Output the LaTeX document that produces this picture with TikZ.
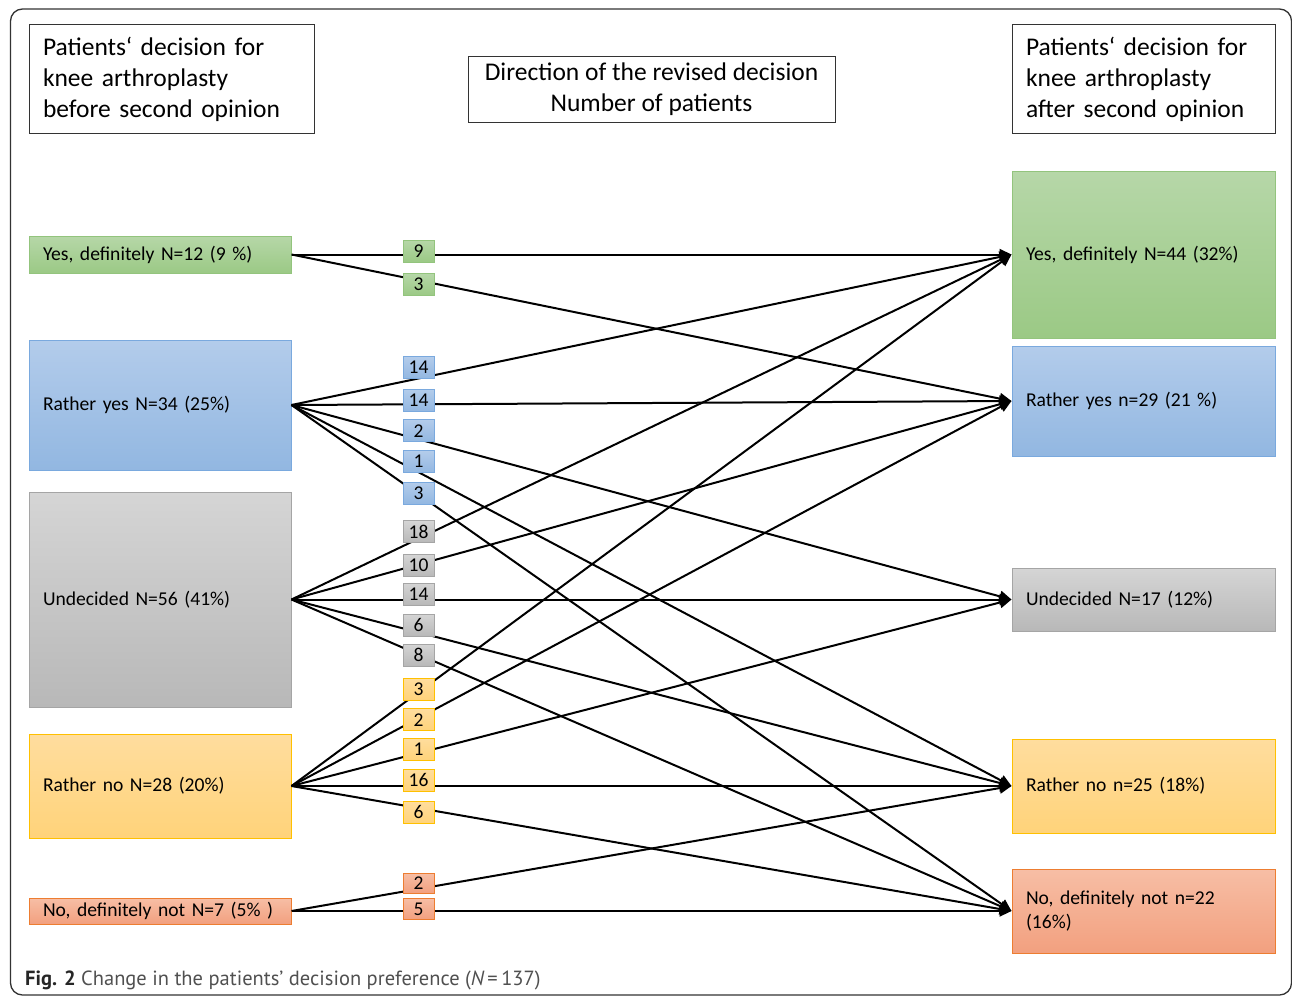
\documentclass[tikz,border=0pt]{standalone}
\usepackage{fontspec}
\setmainfont{Carlito}
\newfontfamily\capfont{PT Sans}
\usetikzlibrary{arrows.meta}
\definecolor{gT}{HTML}{B6D7A8}\definecolor{gB}{HTML}{9BC985}\definecolor{gD}{HTML}{93C47D}
\definecolor{bT}{HTML}{B3CCEB}\definecolor{bB}{HTML}{92B7E1}\definecolor{bD}{HTML}{7AA9DE}
\definecolor{yT}{HTML}{D5D5D5}\definecolor{yB}{HTML}{B8B8B8}\definecolor{yD}{HTML}{A5A5A5}
\definecolor{oT}{HTML}{FFDD9E}\definecolor{oB}{HTML}{FFD37A}\definecolor{oD}{HTML}{FFC000}
\definecolor{rT}{HTML}{F7BEA5}\definecolor{rB}{HTML}{F2A07F}\definecolor{rD}{HTML}{ED7D31}
\definecolor{capgray}{HTML}{505050}
\tikzset{
  gfill/.style={top color=gT, bottom color=gB, draw=gD},
  bfill/.style={top color=bT, bottom color=bB, draw=bD},
  yfill/.style={top color=yT, bottom color=yB, draw=yD},
  ofill/.style={top color=oT, bottom color=oB, draw=oD},
  rfill/.style={top color=rT, bottom color=rB, draw=rD},
  catbox/.style={rectangle, line width=1pt, inner xsep=14pt, inner ysep=0pt, align=left,
    font=\fontsize{19.6}{24}\selectfont},
  leftbox/.style={catbox, text width=234pt},
  rightbox/.style={catbox, text width=235pt},
  headbox/.style={rectangle, draw=black!80, line width=1pt, inner xsep=14pt, inner ysep=0pt,
    font=\fontsize{25.5}{31}\selectfont},
  numbox/.style={rectangle, line width=1pt, minimum width=31pt, minimum height=22pt, inner sep=0pt,
    font=\fontsize{19.5}{20}\selectfont},
  flow/.style={line width=2pt, draw=black},
  arr/.style={flow, -{Triangle[length=12pt,width=11pt]}},
}
\begin{document}
\begin{tikzpicture}[x=1pt,y=-1pt]
\useasboundingbox (0,0) rectangle (1292,998);
\draw[draw=black!80, line width=1.3pt, rounded corners=12pt] (10.5,9) rectangle (1291.5,995);

% headers
\node[headbox, text width=257pt, minimum height=108pt, align=left] (H1) at (171.5,79)
  {Patients‘ decision for\\knee arthroplasty\\before second opinion};
\node[headbox, minimum width=367pt, minimum height=65pt, align=center] (H2) at (651.5,89.5)
  {Direction of the revised decision\\Number of patients};
\node[headbox, text width=235pt, minimum height=108pt, align=left] (H3) at (1143.5,79)
  {Patients‘ decision for\\knee arthroplasty\\after second opinion};

% left categories
\node[leftbox, gfill, minimum height=37pt] (L1) at (160,254.5) {Yes, definitely N=12 (9 \%)};
\node[leftbox, bfill, minimum height=130pt] (L2) at (160,405) {Rather yes N=34 (25\%)};
\node[leftbox, yfill, minimum height=215pt] (L3) at (160,599.5) {Undecided N=56 (41\%)};
\node[leftbox, ofill, minimum height=104pt] (L4) at (160,786) {Rather no N=28 (20\%)};
\node[leftbox, rfill, minimum height=26pt] (L5) at (160,911) {\mbox{No, definitely not N=7 (5\% )}};

% right categories
\node[rightbox, gfill, minimum height=167pt] (R1) at (1143.5,254.5) {Yes, definitely N=44 (32\%)};
\node[rightbox, bfill, minimum height=110pt] (R2) at (1143.5,401) {Rather yes n=29 (21 \%)};
\node[rightbox, yfill, minimum height=63pt] (R3) at (1143.5,599.5) {Undecided N=17 (12\%)};
\node[rightbox, ofill, minimum height=94pt] (R4) at (1143.5,786) {Rather no n=25 (18\%)};
\node[rightbox, rfill, minimum height=84pt] (R5) at (1143.5,911) {No, definitely not n=22\\(16\%)};

% flows
\draw[arr] (L1.east) -- (R1.west);
\draw[arr] (L1.east) -- (R2.west);
\draw[arr] (L2.east) -- (R1.west);
\draw[arr] (L2.east) -- (R2.west);
\draw[arr] (L2.east) -- (R3.west);
\draw[arr] (L2.east) -- (R4.west);
\draw[arr] (L2.east) -- (R5.west);
\draw[arr] (L3.east) -- (R1.west);
\draw[arr] (L3.east) -- (R2.west);
\draw[arr] (L3.east) -- (R3.west);
\draw[arr] (L3.east) -- (R4.west);
\draw[arr] (L3.east) -- (R5.west);
\draw[arr] (L4.east) -- (R1.west);
\draw[arr] (L4.east) -- (R2.west);
\draw[arr] (L4.east) -- (R3.west);
\draw[arr] (L4.east) -- (R4.west);
\draw[arr] (L4.east) -- (R5.west);
\draw[arr] (L5.east) -- (R4.west);
\draw[arr] (L5.east) -- (R5.west);

% counts
\node[numbox, gfill] (n11) at (418.5,251) {9};
\node[numbox, gfill] (n12) at (418.5,284.5) {3};
\node[numbox, bfill] (n21) at (418.5,367.7) {14};
\node[numbox, bfill] (n22) at (418.5,400.5) {14};
\node[numbox, bfill] (n23) at (418.5,430.8) {2};
\node[numbox, bfill] (n24) at (418.5,461.7) {1};
\node[numbox, bfill] (n25) at (418.5,493.2) {3};
\node[numbox, yfill] (n31) at (418.5,531.7) {18};
\node[numbox, yfill] (n32) at (418.5,565.5) {10};
\node[numbox, yfill] (n33) at (418.5,594) {14};
\node[numbox, yfill] (n34) at (418.5,625) {6};
\node[numbox, yfill] (n35) at (418.5,655) {8};
\node[numbox, ofill] (n41) at (418.5,689) {3};
\node[numbox, ofill] (n42) at (418.5,719.8) {2};
\node[numbox, ofill] (n43) at (418.5,749) {1};
\node[numbox, ofill] (n44) at (418.5,780) {16};
\node[numbox, ofill] (n45) at (418.5,812) {6};
\node[numbox, rfill, minimum height=20pt] (n54) at (418.5,883) {2};
\node[numbox, rfill, minimum height=21pt] (n55) at (418.5,908.8) {5};

% caption
\node[anchor=west, inner sep=0pt, font=\capfont\fontsize{20.5}{24}\selectfont, text=capgray] (cap) at (25,980)
  {{\bfseries\color{black!85}Fig. 2} Change in the patients’ decision preference ({\itshape N}\,=\,137)};
\end{tikzpicture}
\end{document}
